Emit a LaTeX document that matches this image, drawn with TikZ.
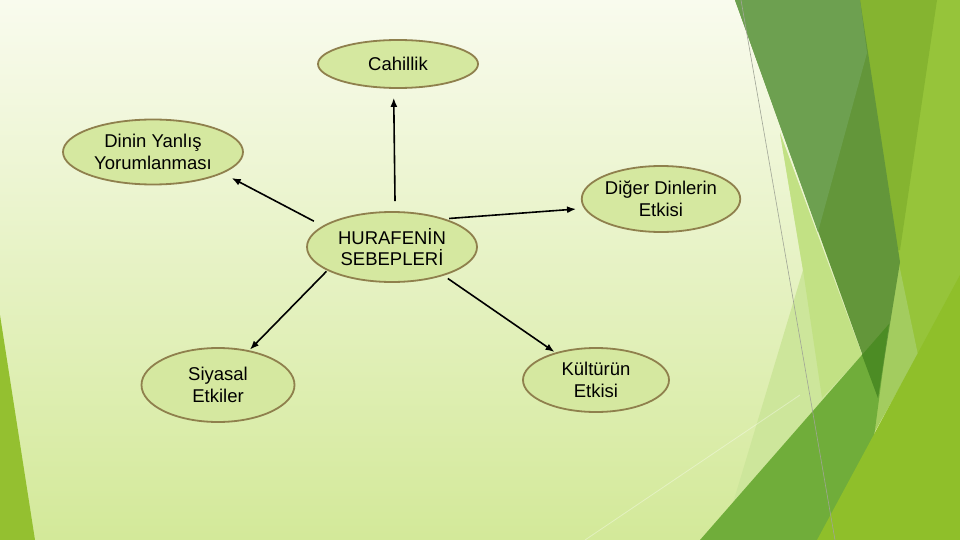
\documentclass[tikz,border=0pt]{standalone}
\usepackage{fontspec}
\setmainfont{Liberation Sans}
\usetikzlibrary{arrows.meta,shapes.geometric}
\definecolor{bgtop}{RGB}{249,251,238}
\definecolor{bgbot}{RGB}{211,233,153}
\definecolor{elfill}{RGB}{213,232,160}
\definecolor{elborder}{RGB}{143,128,77}
\definecolor{fAdark}{RGB}{99,150,58}
\definecolor{fAlight}{RGB}{109,160,80}
\definecolor{fB}{RGB}{133,180,48}
\definecolor{fC}{RGB}{150,196,58}
\definecolor{fD}{RGB}{112,173,58}
\definecolor{fTip}{RGB}{76,140,36}
\definecolor{fE}{RGB}{143,191,42}
\definecolor{fF}{RGB}{163,204,95}
\definecolor{fG}{RGB}{205,230,155}
\definecolor{fH}{RGB}{194,225,132}
\definecolor{fLeft}{RGB}{148,192,48}
\definecolor{thinline}{RGB}{160,165,150}
\tikzset{
  bubble/.style={ellipse, draw=elborder, line width=1.8pt, fill=elfill,
    inner sep=0pt, align=center, font=\fontsize{18.5}{21.5}\selectfont},
  arr/.style={line width=1.6pt, -{Latex[length=9pt,width=7pt]}}
}
\begin{document}
\begin{tikzpicture}[x=1pt,y=-1pt]
\useasboundingbox (0,0) rectangle (960,540);
% background
\shade[top color=bgtop, bottom color=bgbot] (0,0) rectangle (960,540);
% facets
\fill[fLeft] (0,315) -- (35,540) -- (0,540) -- cycle;
\fill[fG] (780,133) -- (862,355) -- (733,503) -- (803,270) -- cycle;
\fill[fH] (780,133) -- (862,355) -- (822,398) -- (803,270) -- cycle;
\fill[fC] (870,0) -- (960,0) -- (960,290) -- (915,360) -- (890,300) -- cycle;
\fill[fF] (895,245) -- (918,355) -- (870,440) -- (880,380) -- cycle;
\fill[fB] (855,0) -- (937,0) -- (900,250) -- (890,250) -- cycle;
\fill[fD] (700,540) -- (889,324) -- (874,437) -- (825,540) -- cycle;
\fill[fAdark] (735,0) -- (860,0) -- (900,262) -- (878,398) -- cycle;
\fill[fAlight] (735,0) -- (860,0) -- (867,53) -- (818,232) -- cycle;
\fill[fTip] (862,355) -- (889,324) -- (878,398) -- cycle;
\fill[fE] (817,540) -- (960,275) -- (960,540) -- cycle;
\draw[thinline, line width=0.6pt] (741,0) -- (835,540);
\draw[white, opacity=0.35, line width=0.8pt] (585,540) -- (800,395);
% nodes
\node[bubble, minimum width=160pt, minimum height=48pt] (cah) at (398,64) {Cahillik};
\node[bubble, minimum width=180pt, minimum height=65pt] (din) at (153,152) {Dinin Yanlış\\Yorumlanması};
\node[bubble, minimum width=155pt, minimum height=66pt] (dig) at (661,199) {Diğer Dinlerin\\Etkisi};
\node[bubble, minimum width=170pt, minimum height=70pt] (hub) at (392,247) {HURAFENİN\\SEBEPLERİ};
\node[bubble, minimum width=153pt, minimum height=74pt] (siy) at (218,385) {Siyasal\\Etkiler};
\node[bubble, minimum width=146pt, minimum height=64pt] (kul) at (596,380) {Kültürün\\Etkisi};
% connectors
\draw[arr, shorten <=10pt, shorten >=9pt] (hub.85) -- (cah.-100);
\draw[arr, shorten <=10pt, shorten >=10pt] (hub.163) -- (din.-17);
\draw[arr, shorten <=4pt, shorten >=8pt] (hub.28) -- (dig.-173);
\draw[arr, shorten <=1pt, shorten >=1pt] (hub.-160) -- (siy.48);
\draw[arr, shorten <=5pt, shorten >=1pt] (hub.-29) -- (kul.146);
\end{tikzpicture}
\end{document}
